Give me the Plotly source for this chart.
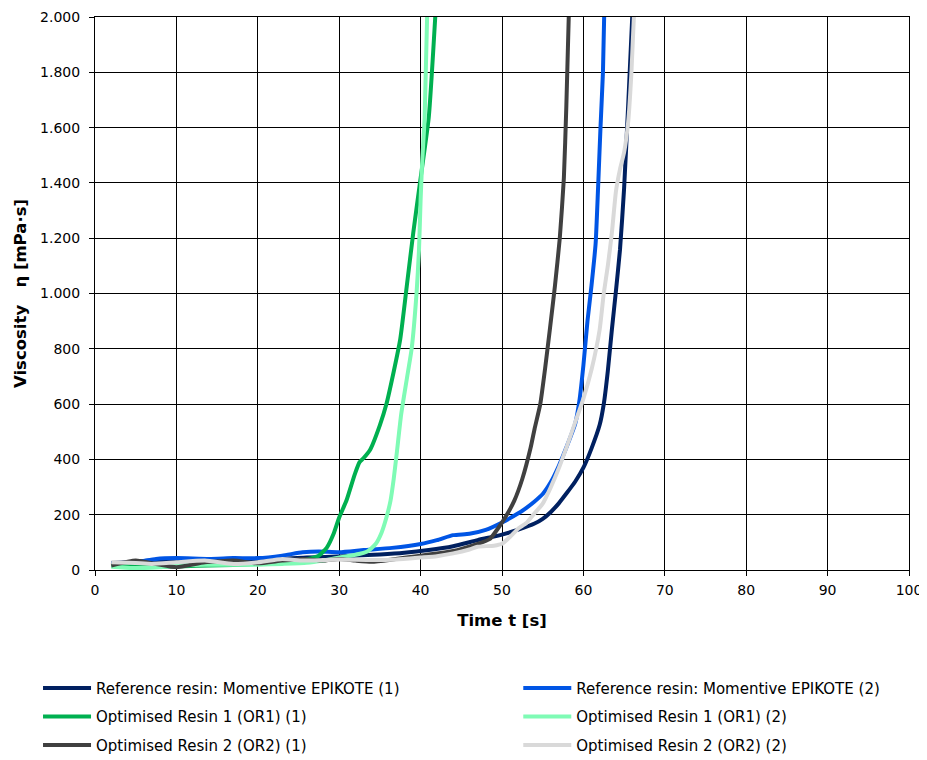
import plotly.graph_objects as go

# ---- data (time in s, viscosity in mPa·s) ----
ref1_t = [2, 5, 8, 11, 14, 17, 20, 23, 26, 29, 32, 35, 38, 41, 44, 47, 50, 52, 54, 55, 56, 57, 58, 59, 60, 61, 62, 62.5, 63, 63.5, 64, 64.5, 65, 65.5, 66]
ref1_v = [25, 30, 35, 30, 35, 38, 40, 40, 45, 48, 52, 56, 62, 72, 86, 108, 128, 146, 168, 185, 210, 242, 280, 320, 370, 440, 525, 600, 720, 870, 1010, 1160, 1380, 1680, 2000]

ref2_t = [2, 5, 7.5, 10, 14, 17, 20, 23, 25.5, 27.5, 30, 33, 36.5, 40, 42, 44, 46, 48, 50, 52, 53, 54, 55, 56, 57, 58, 59, 59.5, 60, 60.5, 61, 61.5, 61.8, 62.1, 62.4, 62.55]
ref2_v = [24, 28, 40, 43, 40, 43, 43, 52, 64, 67, 64, 72, 80, 94, 108, 126, 131, 145, 172, 205, 225, 248, 275, 318, 378, 450, 530, 610, 740, 900, 1030, 1180, 1380, 1600, 1800, 2000]

or1a_t = [2, 5, 8, 11, 14, 17, 20, 23, 25, 26.5, 27.5, 28.5, 29.3, 30, 30.9, 31.9, 32.5, 33, 33.8, 35, 35.8, 36.7, 37.5, 38.3, 39.1, 40, 41, 41.8]
or1a_v = [16, 14, 12, 14, 16, 18, 22, 28, 34, 42, 52, 82, 130, 190, 252, 345, 390, 405, 435, 524, 600, 718, 835, 1026, 1220, 1417, 1636, 2000]

or1b_t = [2, 5, 8, 10, 13.5, 17, 20, 23, 26, 28, 30, 32, 33.5, 34.5, 35.2, 35.8, 36.3, 36.7, 37.1, 37.6, 38.3, 38.9, 39.5, 39.8, 40, 40.2, 40.5, 40.8]
or1b_v = [12, 7, 10, 16, 19, 19, 19, 22, 26, 34, 45, 55, 68, 95, 135, 190, 250, 330, 430, 560, 690, 800, 1000, 1155, 1338, 1480, 1636, 2000]

or2a_t = [2, 5, 7.5, 10, 13.5, 17, 20, 23, 25.5, 28, 30, 32, 34, 36.5, 40, 42, 44.5, 47, 48.5, 49.5, 50.5, 51.5, 52.5, 53.5, 54, 54.7, 55.3, 55.9, 56.5, 57.1, 57.6, 57.9, 58.2]
or2a_v = [16, 34, 22, 10, 28, 34, 24, 34, 40, 34, 40, 34, 30, 38, 52, 60, 72, 94, 112, 150, 195, 250, 330, 440, 510, 600, 730, 875, 1026, 1200, 1417, 1675, 2000]

or2b_t = [2, 5, 7, 10, 13.5, 17, 20, 23, 25.5, 28, 30, 34, 37, 40, 42, 44, 46, 47, 49, 50, 51, 52, 53, 54, 55, 56, 57, 58, 59, 60, 61, 62, 62.5, 63, 63.5, 64, 64.5, 65, 65.5, 65.9, 66.2]
or2b_v = [28, 25, 22, 28, 34, 22, 28, 40, 34, 36, 38, 36, 38, 45, 50, 60, 74, 84, 88, 95, 120, 150, 170, 205, 240, 300, 370, 450, 535, 620, 725, 870, 1000, 1100, 1220, 1370, 1450, 1510, 1620, 1800, 2000]

names = [
    "Reference resin: Momentive EPIKOTE (1)",
    "Reference resin: Momentive EPIKOTE (2)",
    "Optimised Resin 1 (OR1) (1)",
    "Optimised Resin 1 (OR1) (2)",
    "Optimised Resin 2 (OR2) (1)",
    "Optimised Resin 2 (OR2) (2)",
]
colors = ["#002060", "#0055E5", "#00B050", "#7FFBB5", "#404040", "#D9D9D9"]
series = [(ref1_t, ref1_v), (ref2_t, ref2_v), (or1a_t, or1a_v),
          (or1b_t, or1b_v), (or2a_t, or2a_v), (or2b_t, or2b_v)]
legend_ids = ["legend", "legend2", "legend", "legend2", "legend", "legend2"]

x_ticks = list(range(0, 101, 10))
y_ticks = list(range(0, 2001, 200))

fig = go.Figure()
for i, ((t, v), name, col, lg) in enumerate(zip(series, names, colors, legend_ids)):
    fig.add_trace(go.Scatter(
        x=t, y=v, name=name, mode="lines", legend=lg, legendgroup=f"g{i}",
        line=dict(color=col, width=4, shape="spline", smoothing=0.5),
    ))

font_family = "DejaVu Sans, Verdana, sans-serif"
legend_common = dict(
    orientation="v", yanchor="top", y=-0.184, xanchor="left",
    font=dict(size=15, family=font_family, color="black"),
    tracegroupgap=6, itemwidth=48, bgcolor="rgba(0,0,0,0)", borderwidth=0,
)
fig.update_layout(
    width=919, height=752,
    margin=dict(l=87, r=18, t=9, b=190, autoexpand=False),
    paper_bgcolor="white", plot_bgcolor="white",
    separators=",.",
    font=dict(family=font_family, size=14, color="black"),
    showlegend=True,
    legend=dict(x=-0.07, **legend_common),
    legend2=dict(x=0.52, **legend_common),
)
fig.update_xaxes(
    range=[0, 100], tickvals=x_ticks, showgrid=True, gridcolor="black", gridwidth=1,
    showline=True, linecolor="black", linewidth=1, mirror=True,
    ticks="outside", ticklen=5, tickcolor="black", zeroline=False,
    tickfont=dict(size=14), automargin=False, ticklabelstandoff=2,
    title=dict(text="<b>Time t [s]</b>", font=dict(size=16.5), standoff=17),
)
fig.update_yaxes(
    range=[0, 2000], tickvals=y_ticks, tickformat=",d", showgrid=True, gridcolor="black", gridwidth=1,
    showline=True, linecolor="black", linewidth=1, mirror=True,
    ticks="outside", ticklen=5, tickcolor="black", zeroline=False,
    tickfont=dict(size=14), automargin=False, ticklabelstandoff=6,
    title=dict(text="<b>Viscosity\u00a0\u00a0 η [mPa·s]</b>", font=dict(size=16.5), standoff=9),
)

fig.write_html("out.html")
